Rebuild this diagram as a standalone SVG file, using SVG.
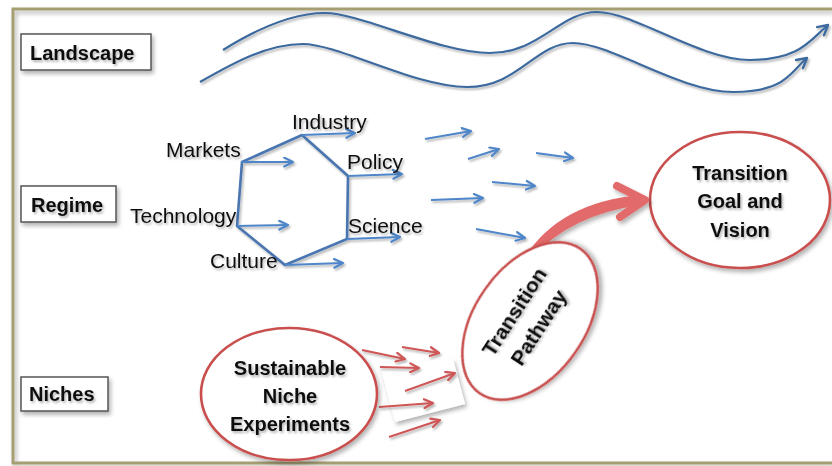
<svg xmlns="http://www.w3.org/2000/svg" width="832" height="466" viewBox="0 0 832 466">
<defs>
<filter id="sh" x="-20%" y="-20%" width="140%" height="140%">
<feDropShadow dx="2" dy="3" stdDeviation="2" flood-color="#000" flood-opacity="0.3"/>
</filter>
<filter id="tsh" x="-10%" y="-10%" width="120%" height="130%">
<feDropShadow dx="1.5" dy="2" stdDeviation="1.2" flood-color="#000" flood-opacity="0.3"/>
</filter>
<marker id="wv" viewBox="0 0 12 12" refX="10" refY="6" markerWidth="13" markerHeight="13" markerUnits="userSpaceOnUse" orient="auto">
<path d="M1,1 L10,6 L1,11" fill="none" stroke="#3e6a9e" stroke-width="2.2" stroke-linecap="round" stroke-linejoin="round"/>
</marker>
<marker id="bl" viewBox="0 0 10 10" refX="9" refY="5" markerWidth="11" markerHeight="11" markerUnits="userSpaceOnUse" orient="auto">
<path d="M1,1 L9,5 L1,9" fill="none" stroke="#4f86c9" stroke-width="2" stroke-linecap="round" stroke-linejoin="round"/>
</marker>
<marker id="rd" viewBox="0 0 10 10" refX="9" refY="5" markerWidth="11" markerHeight="11" markerUnits="userSpaceOnUse" orient="auto">
<path d="M1,1 L9,5 L1,9" fill="none" stroke="#cf5656" stroke-width="2" stroke-linecap="round" stroke-linejoin="round"/>
</marker>
</defs>
<style>
.lbl{fill:#fff;stroke:#555;stroke-width:1.5}
.lt{font-family:"Liberation Sans",Arial,sans-serif;font-weight:bold;font-size:20px;fill:#111}
.rt{font-family:"Liberation Sans",Arial,sans-serif;font-size:21px;fill:#111}
.bt{font-family:"Liberation Sans",Arial,sans-serif;font-weight:bold;font-size:20px;fill:#111;text-anchor:middle}
.wave{fill:none;stroke:#3e6a9e;stroke-width:2.2;marker-end:url(#wv)}
.hex{fill:none;stroke:#4a74b0;stroke-width:2.6;stroke-linejoin:round}
.ba{fill:none;stroke:#4f86c9;stroke-width:2;marker-end:url(#bl)}
.ra{fill:none;stroke:#cf5656;stroke-width:2;marker-end:url(#rd)}
.ell{fill:#fff;stroke:#c9504f;stroke-width:2.6}
</style>
<rect x="0" y="0" width="832" height="466" fill="#fff"/>
<g id="frame">
<path d="M832,9 L13,9 L13,463 L832,463" fill="none" stroke="#a59e72" stroke-width="3" filter="url(#sh)"/>
</g>
<g id="landscape">
<rect class="lbl" x="21" y="34" width="130" height="36" filter="url(#sh)"/>
<text class="lt" x="30" y="60" filter="url(#tsh)">Landscape</text>
</g>
<g id="regime">
<rect class="lbl" x="21" y="186" width="95" height="36" filter="url(#sh)"/>
<text class="lt" x="31" y="212" filter="url(#tsh)">Regime</text>
</g>
<g id="niches">
<rect class="lbl" x="21" y="377" width="87" height="34" filter="url(#sh)"/>
<text class="lt" x="29" y="401" filter="url(#tsh)">Niches</text>
</g>
<g id="connectors" filter="url(#tsh)">
<path class="wave" d="M223,50 C255,30 290,13 325,13 S440,53 490,53 S560,12 597,12 S700,60 750,60 S810,40 828,25"/>
<path class="wave" d="M200,82 C235,62 268,44 303,44 S415,87 467,87 S535,43 573,43 S680,92 733,92 S790,72 807,58"/>
<path class="hex" d="M242,162 L302,135 L348,176 L347,239 L285,265 L237,226 Z"/>
<path class="ba" d="M242,162 L293,162"/>
<path class="ba" d="M302,135 L355,133"/>
<path class="ba" d="M348,176 L402,174"/>
<path class="ba" d="M237,226 L288,225"/>
<path class="ba" d="M347,239 L400,237"/>
<path class="ba" d="M285,265 L343,263"/>
<path class="ba" d="M425,139 L471,131"/>
<path class="ba" d="M468,159 L499,149"/>
<path class="ba" d="M536,153 L573,158"/>
<path class="ba" d="M492,182 L535,186"/>
<path class="ba" d="M431,200 L483,198"/>
<path class="ba" d="M476,229 L525,238"/>
</g>
<g id="hexlabels" filter="url(#tsh)">
<text class="rt" x="166" y="157">Markets</text>
<text class="rt" x="292" y="129">Industry</text>
<text class="rt" x="347" y="169">Policy</text>
<text class="rt" x="130" y="223">Technology</text>
<text class="rt" x="348" y="233">Science</text>
<text class="rt" x="210" y="268">Culture</text>
</g>
<g id="goal">
<ellipse class="ell" cx="740" cy="200" rx="90" ry="68" filter="url(#sh)"/>
<text class="bt" x="740" y="180" filter="url(#tsh)">Transition</text>
<text class="bt" x="740" y="208" filter="url(#tsh)">Goal and</text>
<text class="bt" x="740" y="237" filter="url(#tsh)">Vision</text>
</g>
<g id="bigarrow" filter="url(#sh)">
<path d="M525,257 Q560,202 641,195 L642,205 Q570,214 530,260 Z" fill="#e26a6a"/>
<path d="M617,186 L645,200 L620,217" fill="none" stroke="#e26a6a" stroke-width="8" stroke-linecap="round" stroke-linejoin="round"/>
</g>
<g id="pathway">
<ellipse class="ell" cx="0" cy="0" rx="88" ry="55" transform="translate(530,321) rotate(-55)" filter="url(#sh)"/>
<g transform="translate(527,320) rotate(-57)" filter="url(#tsh)">
<text class="bt" x="0" y="-8" style="font-size:21px">Transition</text>
<text class="bt" x="0" y="21" style="font-size:21px">Pathway</text>
</g>
</g>
<g id="paper">
<polygon points="380,365 453,359 465,404 395,422" fill="#fff" filter="url(#sh)"/>
</g>
<g id="nicheArrows" filter="url(#tsh)">
<path class="ra" d="M362,350 L405,359"/>
<path class="ra" d="M402,347 L439,353"/>
<path class="ra" d="M380,367 L419,368"/>
<path class="ra" d="M405,391 L455,373"/>
<path class="ra" d="M379,407 L433,403"/>
<path class="ra" d="M389,437 L440,420"/>
</g>
<g id="niche">
<ellipse class="ell" cx="289" cy="394" rx="88" ry="66" filter="url(#sh)"/>
<text class="bt" x="290" y="375" filter="url(#tsh)">Sustainable</text>
<text class="bt" x="290" y="403" filter="url(#tsh)">Niche</text>
<text class="bt" x="290" y="431" filter="url(#tsh)">Experiments</text>
</g>
</svg>
